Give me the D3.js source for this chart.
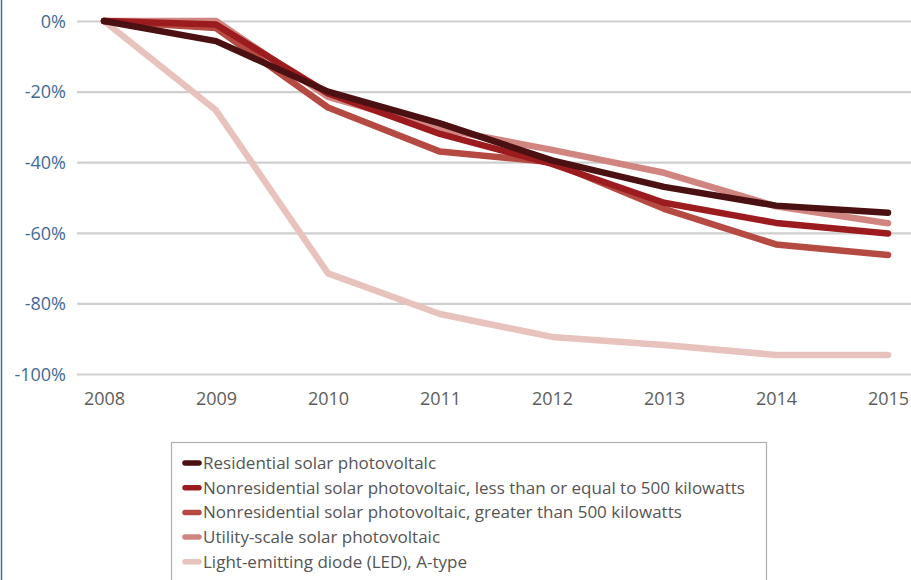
<!DOCTYPE html>
<html>
<head>
<meta charset="utf-8">
<script src="https://cdn.jsdelivr.net/npm/d3@7"></script>
<style>
  html, body { margin: 0; padding: 0; background: #fff; }
  svg { display: block; }
  text { font-family: "Open Sans", "Noto Sans", sans-serif; }
</style>
</head>
<body>
<svg id="chart" width="911" height="580"></svg>
<script>
// Years on the horizontal axis
const years = ["2008", "2009", "2010", "2011", "2012", "2013", "2014", "2015"];

// Cumulative cost change since 2008, in percent
const residential = [0, -5.7, -20, -29, -39.5, -47, -52.3, -54.3];
const nonresSmall = [0, -1, -20.5, -32, -40.5, -51.5, -57.2, -60.2];
const nonresLarge = [0, -2, -24.5, -37, -40, -53.2, -63.3, -66.3];
const utility = [0, 0, -21.5, -30.5, -36.5, -43, -52.5, -57.3];
const led = [0, -25.3, -71.5, -83, -89.5, -91.8, -94.6, -94.6];

const seriesNames = [
  "Residential solar photovoltalc",
  "Nonresidential solar photovoltaic, less than or equal to 500 kilowatts",
  "Nonresidential solar photovoltaic, greater than 500 kilowatts",
  "Utility-scale solar photovoltaic",
  "Light-emitting diode (LED), A-type"
];
const seriesColors = ["#4a1012", "#9c1b1f", "#b54a42", "#d08580", "#e8c3be"];
const seriesValues = [residential, nonresSmall, nonresLarge, utility, led];

const yTicks = [0, -20, -40, -60, -80, -100];

const series = seriesNames.map((name, i) => ({
  name, color: seriesColors[i], values: seriesValues[i]
}));

const svg = d3.select("#chart");

// Thin rule along the left edge
svg.append("line")
  .attr("x1", 1.5).attr("x2", 1.5).attr("y1", 0).attr("y2", 580)
  .attr("stroke", "#3d6f9e").attr("stroke-width", 1.5);

const x = d3.scalePoint().domain(years).range([104, 888]);
const y = d3.scaleLinear().domain([-100, 0]).range([374, 21]);

// Horizontal gridlines and percent labels
const yAxis = d3.axisLeft(y).tickValues(yTicks)
  .tickSize(-(911 - 77)).tickPadding(11)
  .tickFormat(d => d + "%");
const gy = svg.append("g").attr("transform", "translate(77,0)").call(yAxis);
gy.select(".domain").remove();
gy.selectAll(".tick line").attr("stroke", "#cfcfcf").attr("stroke-width", 2.2);
gy.selectAll(".tick text")
  .attr("fill", "#426a97").attr("font-size", 18).attr("dy", "0.35em");

// Year labels
const xAxis = d3.axisBottom(x).tickSize(0).tickPadding(18);
const gx = svg.append("g").attr("transform", "translate(0,374)").call(xAxis);
gx.select(".domain").remove();
gx.selectAll(".tick text").attr("fill", "#5c5c5c").attr("font-size", 18);

// Series lines, the first series drawn last so it sits on top
const line = d3.line()
  .x((d, i) => x(years[i]))
  .y(d => y(d));

svg.append("g").selectAll("path")
  .data(series.slice().reverse())
  .join("path")
  .attr("d", d => line(d.values))
  .attr("fill", "none")
  .attr("stroke", d => d.color)
  .attr("stroke-width", 6.5)
  .attr("stroke-linecap", "round")
  .attr("stroke-linejoin", "round");

// Legend
const legend = svg.append("g");
legend.append("rect")
  .attr("x", 171.5).attr("y", 442.5).attr("width", 595).attr("height", 160)
  .attr("fill", "none").attr("stroke", "#b0b0b0").attr("stroke-width", 1.2);

const items = legend.selectAll("g.item")
  .data(series)
  .join("g")
  .attr("class", "item")
  .attr("transform", (d, i) => `translate(0,${463 + i * 24.7})`);

items.append("line")
  .attr("x1", 185).attr("x2", 199).attr("y1", 0).attr("y2", 0)
  .attr("stroke", d => d.color).attr("stroke-width", 5.5)
  .attr("stroke-linecap", "round");

items.append("text")
  .attr("x", 203).attr("y", 0).attr("dy", "0.35em")
  .attr("fill", "#555").attr("font-size", 17)
  .text(d => d.name);
</script>
</body>
</html>
